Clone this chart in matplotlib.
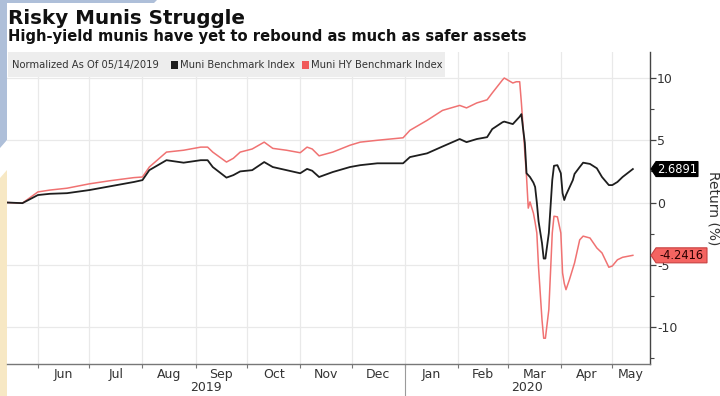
import matplotlib
matplotlib.use("Agg")
import matplotlib.pyplot as plt
import matplotlib.dates as mdates
from matplotlib.patches import Polygon, Rectangle
import numpy as np
import pandas as pd

# ---- data: cumulative return (%) normalized as of 2019-05-14 ----
dates = [
    "2019-05-14", "2019-05-23", "2019-06-01", "2019-06-08", "2019-06-18",
    "2019-07-01", "2019-07-13", "2019-07-27", "2019-08-01", "2019-08-05",
    "2019-08-15", "2019-08-25", "2019-09-04", "2019-09-08", "2019-09-11",
    "2019-09-19", "2019-09-23", "2019-09-27", "2019-10-04", "2019-10-11",
    "2019-10-16", "2019-10-24", "2019-11-01", "2019-11-05", "2019-11-08",
    "2019-11-12", "2019-11-20", "2019-11-30", "2019-12-06", "2019-12-16",
    "2019-12-31", "2020-01-04", "2020-01-14", "2020-01-23", "2020-02-02",
    "2020-02-06", "2020-02-12", "2020-02-18", "2020-02-21", "2020-02-27",
    "2020-02-28", "2020-03-04", "2020-03-06", "2020-03-08", "2020-03-09",
    "2020-03-10", "2020-03-11", "2020-03-12", "2020-03-13", "2020-03-14",
    "2020-03-16", "2020-03-17", "2020-03-18", "2020-03-19", "2020-03-21",
    "2020-03-22", "2020-03-23", "2020-03-25", "2020-03-27", "2020-03-28",
    "2020-03-30", "2020-04-01", "2020-04-02", "2020-04-03", "2020-04-04",
    "2020-04-06", "2020-04-08", "2020-04-09", "2020-04-12", "2020-04-14",
    "2020-04-18", "2020-04-22", "2020-04-25", "2020-04-29", "2020-05-01",
    "2020-05-04", "2020-05-07", "2020-05-13",
]
muni_benchmark = [
    0.00, -0.05, 0.60, 0.70, 0.75,
    1.00, 1.30, 1.65, 1.80, 2.60,
    3.40, 3.20, 3.40, 3.40, 2.85,
    2.00, 2.20, 2.50, 2.60, 3.25,
    2.85, 2.60, 2.35, 2.70, 2.55,
    2.05, 2.45, 2.85, 3.00, 3.15,
    3.15, 3.65, 3.95, 4.50, 5.10,
    4.85, 5.10, 5.25, 5.90, 6.45,
    6.50, 6.30, 6.60, 6.90, 7.10,
    5.90, 4.80, 2.35, 2.20, 2.05,
    1.60, 1.25, 0.00, -1.50, -3.25,
    -4.50, -4.50, -2.45, 1.80, 2.95,
    3.00, 2.35, 0.75, 0.20, 0.60,
    1.20, 1.80, 2.30, 2.85, 3.20,
    3.10, 2.75, 2.05, 1.40, 1.40,
    1.65, 2.05, 2.6891,
]
muni_hy_benchmark = [
    0.00, -0.05, 0.85, 1.00, 1.15,
    1.50, 1.75, 2.00, 2.05, 2.85,
    4.05, 4.20, 4.45, 4.45, 4.05,
    3.25, 3.55, 4.05, 4.30, 4.85,
    4.35, 4.20, 4.00, 4.45, 4.30,
    3.75, 4.05, 4.60, 4.85, 5.00,
    5.20, 5.80, 6.60, 7.40, 7.80,
    7.60, 8.00, 8.25, 8.80, 9.85,
    10.00, 9.60, 9.70, 9.70, 8.00,
    6.05, 4.00, 2.05, -0.45, 0.05,
    -0.85, -1.60, -2.45, -5.20, -9.40,
    -10.90, -10.90, -8.60, -2.45, -1.10,
    -1.15, -2.45, -5.65, -6.50, -7.00,
    -6.20, -5.30, -4.85, -3.00, -2.70,
    -2.85, -3.65, -4.05, -5.20, -5.10,
    -4.60, -4.40, -4.2416,
]
y_ticks = [-10, -5, 0, 5, 10]
title = "Risky Munis Struggle"
subtitle = "High-yield munis have yet to rebound as much as safer assets"
series_names = ["Muni Benchmark Index", "Muni HY Benchmark Index"]

# ---- styling ----
BLACK = "#1e1e1e"
RED = "#f07272"
RED_TAG = "#f46461"
GRID = "#e9e9e9"
TXT = "#333333"
FONT = "DejaVu Sans"

W, H = 720, 396
fig = plt.figure(figsize=(W / 100, H / 100), dpi=100)
fig.patch.set_facecolor("white")

# decorative page edges to the left of the chart card
blue = "#aebfd9"
yellow = "#f7e8c4"
fig.add_artist(Polygon([(0, H), (157, H), (154, H - 3), (7, H - 3),
                        (7, H - 140), (0, H - 148)],
                       closed=True, transform=None, facecolor=blue,
                       edgecolor="none", zorder=0))
fig.add_artist(Polygon([(0, H - 178), (7, H - 170), (7, 0), (0, 0)],
                       closed=True, transform=None, facecolor=yellow,
                       edgecolor="none", zorder=0))

# plot area (pixels): x 7..650, y 52..364
left, right, top, bottom = 7, 650, 52, 364
ax = fig.add_axes([left / W, 1 - bottom / H, (right - left) / W,
                   (bottom - top) / H])
ax.set_facecolor("white")

x = pd.to_datetime(dates)
x0 = pd.Timestamp("2019-05-14")
x1 = pd.Timestamp("2020-05-23")
ax.set_xlim(x0, x1)
ax.set_ylim(-12.97, 12.09)

ax.plot(x, muni_hy_benchmark, color=RED, lw=1.1, zorder=3)
ax.plot(x, muni_benchmark, color=BLACK, lw=1.3, zorder=4)

# spines
for s in ["top", "left"]:
    ax.spines[s].set_visible(False)
ax.spines["right"].set_color("#444444")
ax.spines["right"].set_linewidth(1.0)
ax.spines["bottom"].set_color("#777777")
ax.spines["bottom"].set_linewidth(1.0)

# y axis on the right
ax.yaxis.tick_right()
ax.set_yticks(y_ticks)
ax.set_yticklabels([str(t) for t in y_ticks])
ax.set_yticks(np.arange(-12.5, 12.1, 5), minor=True)
ax.tick_params(axis="y", which="major", direction="out", length=4, width=0.9,
               color="#444444", labelsize=9, labelcolor=TXT, pad=1)
ax.tick_params(axis="y", which="minor", direction="out", length=3, width=0.8,
               color="#444444")
for lab in ax.get_yticklabels():
    lab.set_fontfamily(FONT)
ax.grid(axis="y", which="major", color=GRID, lw=0.9, zorder=0)

# x axis: month boundaries as ticks / grid, labels centered in each month
month_starts = pd.date_range("2019-06-01", "2020-05-01", freq="MS")
ax.set_xticks(month_starts)
ax.set_xticklabels([])
ax.tick_params(axis="x", which="major", direction="out", length=3, width=0.8,
               color="#777777")
ax.grid(axis="x", which="major", color=GRID, lw=0.9, zorder=0)

bounds = list(month_starts) + [x1]
centers, names = [], []
for a, b in zip(bounds[:-1], bounds[1:]):
    centers.append(a + (b - a) / 2)
    names.append(a.strftime("%b"))
ax.set_xticks(centers, minor=True)
ax.set_xticklabels(names, minor=True)
ax.tick_params(axis="x", which="minor", length=0, labelsize=9,
               labelcolor=TXT, pad=3)
for lab in ax.get_xticklabels(minor=True):
    lab.set_fontfamily(FONT)

# year labels and year separator
trans_x = ax.get_xaxis_transform()
jan1 = pd.Timestamp("2020-01-01")
for a, b, yr in [(x0, jan1, "2019"), (jan1, x1, "2020")]:
    ax.text(a + (b - a) / 2, -0.075, yr, transform=trans_x, ha="center",
            va="center", fontsize=9, color=TXT, family=FONT)
ax.plot([jan1, jan1], [0, -0.11], transform=trans_x, color="#9a9a9a",
        lw=0.8, clip_on=False)

# legend strip across the top of the plot
ax_w, ax_h = right - left, bottom - top
ax.add_patch(Rectangle(((8 - left) / ax_w, 1 - (77 - top) / ax_h),
                       (445 - 8) / ax_w, (77 - top) / ax_h,
                       transform=ax.transAxes, facecolor="#ededed",
                       edgecolor="none", zorder=5))
leg_y = 1 - (65 - top) / ax_h
ax.text((12 - left) / ax_w, leg_y, "Normalized As Of 05/14/2019",
        transform=ax.transAxes, ha="left", va="center", fontsize=7.2,
        color=TXT, family=FONT, zorder=6)
for px, col, name in [(171, BLACK, series_names[0]),
                      (302, "#f05a5a", series_names[1])]:
    ax.add_patch(Rectangle(((px - left) / ax_w, leg_y - 3.5 / ax_h),
                           7 / ax_w, 7 / ax_h, transform=ax.transAxes,
                           facecolor=col, edgecolor="none", zorder=6))
    ax.text((px + 9 - left) / ax_w, leg_y, name, transform=ax.transAxes,
            ha="left", va="center", fontsize=7.2, color=TXT, family=FONT,
            zorder=6)

# titles
fig.text(8 / W, 1 - 24.5 / H, title, ha="left", va="baseline",
         fontsize=14.3, fontweight="bold", color="#111111", family=FONT)
fig.text(8 / W, 1 - 40.5 / H, subtitle, ha="left", va="baseline",
         fontsize=10.6, fontweight="bold", color="#111111", family=FONT)

# axis title on the far right
fig.text(713 / W, 1 - 208 / H, "Return (%)", rotation=270, ha="center",
         va="center", fontsize=10, color=TXT, family=FONT)

# last-value tags
fig.canvas.draw()


def value_tag(value, width, face, edge, text_color):
    ypx = ax.transData.transform((mdates.date2num(x1), value))[1]
    h = 7.5
    xl = right + 1
    pts = [(xl, ypx), (xl + 5, ypx + h), (xl + width, ypx + h),
           (xl + width, ypx - h), (xl + 5, ypx - h)]
    fig.add_artist(Polygon(pts, closed=True, transform=None, facecolor=face,
                           edgecolor=edge, lw=0.8, zorder=10))
    fig.text((xl + 3 + width / 2) / W, ypx / H, f"{value:.4f}", ha="center",
             va="center", fontsize=8.3, color=text_color, family=FONT,
             zorder=11)


value_tag(muni_benchmark[-1], 47, "#000000", "#000000", "white")
value_tag(muni_hy_benchmark[-1], 56, RED_TAG, "#c84040", "#2a0000")

fig.savefig("out.png", dpi=100)
